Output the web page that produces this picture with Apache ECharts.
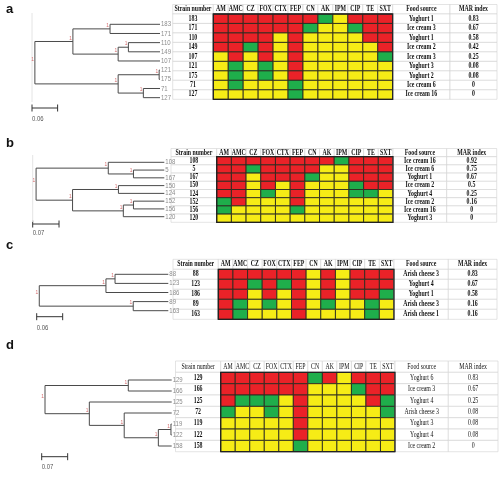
<!DOCTYPE html>
<html><head><meta charset="utf-8">
<script src="https://cdn.jsdelivr.net/npm/echarts@6/dist/echarts.min.js"></script>
<style>html,body{margin:0;padding:0;background:#fff}#c{width:500px;height:478px}</style>
</head><body><div id="c"></div>
<script>
// ---------------- DATA ----------------
const antibiotics = ['AM','AMC','CZ','FOX','CTX','FEP','CN','AK','IPM','CIP','TE','SXT'];
const colStrain = 'Strain number';
const colFood = 'Food source';
const colMar = 'MAR index';
const panelLetters = ['a','b','c','d'];

// R = red, G = green, Y = yellow (one letter per antibiotic)
const strainsA = ['183','171','110','149','107','121','175','71','127'];
const resistA = ['RRRRRRRGYRRR','RRRRRRGYYGRR','RRRRYRYYYYRR','RRGRYRYYYYYR','YRYRYRYYYYYG','YGYGYRYYYYYY','YGYGYRYYYYYY','YGYYYGYYYYYY','YYYYYGYYYYYY'];
const foodA = ['Yoghurt 1','Ice cream 3','Yoghurt 1','Ice cream 2','Ice cream 3','Yoghurt 3','Yoghurt 2','Ice cream 6','Ice cream 16'];
const marA = [0.83,0.67,0.58,0.42,0.25,0.08,0.08,0,0];
const treeA = [0.293,[0.204,[0.117,'183','171'],[0.098,[0.074,'110','149'],'107']],[0.098,[0.002,'121','175'],[0.039,'71','127']]];
const scaleA = 0.06;

const strainsB = ['108','5','167','150','124','152','156','120'];
const resistB = ['RRRRRRRRGRRR','RRGRRRRYYRRR','RRYRRRGYYRRR','RRYRYRYYYGRR','RRYGYRYYYGGY','GRYYYRYYYYYY','GYYYYGYYYYYY','YYYYYYYYYYYY'];
const foodB = ['Ice cream 16','Ice cream 6','Yoghurt 1','Ice cream 2','Yoghurt 4','Ice cream 2','Ice cream 16','Yoghurt 3'];
const marB = [0.92,0.75,0.67,0.5,0.25,0.16,0,0];
const treeB = [0.341,[0.149,'108',[0.082,'5','167']],[0.244,[0.122,'150','124'],[0.109,[0.082,'152','156'],'120']]];
const scaleB = 0.07;

const strainsC = ['88','123','186','89','163'];
const resistC = ['RRRRRRYRYRRR','RRGRGRYRYRRR','RRYRYRYRYRRG','RGYGYRYGYYGY','RGYYYRYYYYGY'];
const foodC = ['Arish cheese 3','Yoghurt 4','Yoghurt 1','Arish cheese 3','Arish cheese 1'];
const marC = [0.83,0.67,0.58,0.16,0.16];
const treeC = [0.298,[0.144,[0.123,'88','123'],'186'],[0.081,'89','163']];
const scaleC = 0.06;

const strainsD = ['129','166','125','72','119','122','158'];
const resistD = ['RRRRRRGRYRRR','RRRRRRYYYGRR','RGGGYRYYYYRG','GYYGYRYYYYYG','YYYYYRYYYYYY','YYYYYRYYYYYY','YYYYYGYYYYYY'];
const foodD = ['Yoghurt 6','Ice cream 3','Yoghurt 4','Arish cheese 3','Yoghurt 3','Yoghurt 4','Ice cream 2'];
const marD = [0.83,0.67,0.25,0.08,0.08,0.08,0];
const treeD = [0.3415,[0.117,'129','166'],[0.222,'125',[0.128,'72',[0.036,[0.002,'119','122'],'158']]]];
const scaleD = 0.07;

// ---------------- LAYOUT ----------------
const layouts = [
  {labelY:11, tipX:160, ppu:427, barLeft:32, leafY0:24.3, sp:9.17, barY:108, barTextY:119, frame:[13,102], tableTop:4.5, rowH:9.48, cols:[172.7,213.3,392.7,450,497], bold:true},
  {labelY:145, tipX:164.3, ppu:376, barLeft:32.7, leafY0:162.3, sp:7.77, barY:224, barTextY:233, frame:[155,222], tableTop:148.5, rowH:8.2, cols:[171,216.7,393,446.7,496.7], bold:true},
  {labelY:247, tipX:168.3, ppu:433, barLeft:36.7, leafY0:274.3, sp:9.1, barY:316.7, barTextY:328, frame:null, tableTop:259.3, rowH:10, cols:[173,218.3,394,448.3,497], bold:true},
  {labelY:347, tipX:171.7, ppu:371, barLeft:41.7, leafY0:380, sp:11, barY:456.7, barTextY:467, frame:null, tableTop:361, rowH:11.34, cols:[175.5,220.7,395,448.3,498], bold:false}
];
const panels = [
  {strains:strainsA, resist:resistA, food:foodA, mar:marA, tree:treeA, scale:scaleA},
  {strains:strainsB, resist:resistB, food:foodB, mar:marB, tree:treeB, scale:scaleB},
  {strains:strainsC, resist:resistC, food:foodC, mar:marC, tree:treeC, scale:scaleC},
  {strains:strainsD, resist:resistD, food:foodD, mar:marD, tree:treeD, scale:scaleD}
];

const COLORS = {R:'#ea2228', G:'#1fae4b', Y:'#f6ec16'};
const SERIF = '"Liberation Serif","Times New Roman",serif';
const SANS = '"Liberation Sans",Arial,sans-serif';

function txt(x, y, text, font, fill, sx, align){
  return {type:'text', x:x, y:y, scaleX:sx, z2:5,
    style:{text:String(text), x:0, y:0, align:align||'center', verticalAlign:'middle', font:font, fill:fill||'#111'}};
}

function layoutTree(node, leaves, segs, boots){
  if (typeof node === 'string') return {h:0, y:leaves.indexOf(node)};
  const h = node[0];
  const kids = node.slice(1).map(k => layoutTree(k, leaves, segs, boots));
  const y1 = kids[0].y, y2 = kids[kids.length-1].y;
  segs.push({kind:'seg', a:[h,y1,h,y2]});
  kids.forEach(k => segs.push({kind:'seg', a:[h,k.y,k.h,k.y]}));
  const y = (y1+y2)/2;
  boots.push({kind:'boot', h:h, y:y});
  return {h:h, y:y};
}

const grids = [], xAxes = [], yAxes = [], series = [], graphics = [];

function addGrid(g, xa, ya){
  grids.push(g); xa.gridIndex = grids.length-1; ya.gridIndex = grids.length-1;
  xAxes.push(xa); yAxes.push(ya);
  return grids.length-1;
}

panels.forEach((P, pi) => {
  const L = layouts[pi];
  const n = P.strains.length;
  // ---- tree ----
  const axMax = (L.tipX - L.barLeft) / L.ppu;
  const tg = addGrid({left:L.barLeft, top:L.leafY0 - L.sp/2, width:L.tipX - L.barLeft, height:n*L.sp},
    {type:'value', inverse:true, min:0, max:axMax, show:false},
    {type:'value', inverse:true, min:-0.5, max:n-0.5, show:false});
  const segs = [], boots = [];
  layoutTree(P.tree, P.strains, segs, boots);
  const tItems = segs.concat(boots);
  P.strains.forEach((s,i) => tItems.push({kind:'leaf', i:i, t:s}));
  tItems.push({kind:'bar', x0:axMax});
  series.push({
    type:'custom', xAxisIndex:tg, yAxisIndex:tg, silent:true, clip:false,
    data: tItems.map(() => [0,0]),
    renderItem: function(params, api){
      const it = tItems[params.dataIndex];
      if (it.kind === 'seg'){
        const p1 = api.coord([it.a[0], it.a[1]]), p2 = api.coord([it.a[2], it.a[3]]);
        return {type:'line', shape:{x1:p1[0], y1:p1[1], x2:p2[0], y2:p2[1]}, style:{stroke:'#4a4a4a', lineWidth:1}};
      }
      if (it.kind === 'leaf'){
        const p = api.coord([0, it.i]);
        return txt(p[0]+1, p[1], it.t, '7.5px ' + SANS, '#8c8c8c', 0.8, 'left');
      }
      if (it.kind === 'boot'){
        const p = api.coord([it.h, it.y]);
        return txt(p[0]-1, p[1]-3.5, '1', '6px ' + SANS, '#d46a6c', 0.8, 'right');
      }
      if (it.kind === 'bar'){
        const p1 = api.coord([it.x0, 0]), p2 = api.coord([it.x0 - P.scale, 0]);
        const y = L.barY;
        const ch = [
          {type:'line', shape:{x1:p1[0], y1:y, x2:p2[0], y2:y}, style:{stroke:'#333', lineWidth:1}},
          {type:'line', shape:{x1:p1[0], y1:y-3.5, x2:p1[0], y2:y+3.5}, style:{stroke:'#333', lineWidth:1}},
          {type:'line', shape:{x1:p2[0], y1:y-3.5, x2:p2[0], y2:y+3.5}, style:{stroke:'#333', lineWidth:1}},
          txt(p1[0], L.barTextY, P.scale, '7px ' + SANS, '#555', 0.85, 'left')
        ];
        if (L.frame) ch.push({type:'line', shape:{x1:p1[0], y1:L.frame[0], x2:p1[0], y2:L.frame[1]}, style:{stroke:'#e4e4e4', lineWidth:1}});
        return {type:'group', children:ch};
      }
    }
  });

  // ---- table ----
  const rows = ['header'].concat(P.strains);
  const top = L.tableTop, H = rows.length * L.rowH;
  const fw = L.bold ? 'bold ' : '';
  const fontHdr = fw + '7.5px ' + SERIF;
  const fontTxt = fw + '7.5px ' + SERIF;
  const fontNum = 'bold 7.5px ' + SERIF;
  const cols = L.cols;

  function addTable(left, right, colNames, items){
    const g = addGrid({left:left, top:top, width:right-left, height:H},
      {type:'category', data:colNames, show:false},
      {type:'category', data:rows, inverse:true, show:false});
    series.push({
      type:'custom', xAxisIndex:g, yAxisIndex:g, silent:true, clip:false,
      data: items.map(it => [it.c, it.r]),
      renderItem: function(params, api){
        const it = items[params.dataIndex];
        const c = api.coord([it.c, it.r]);
        const s = api.size([1,1]);
        const x0 = c[0]-s[0]/2, y0 = c[1]-s[1]/2;
        if (it.kind === 'outline'){
          const c2 = api.coord([it.c2, it.r2]);
          return {type:'rect', z2:10, shape:{x:x0, y:y0, width:c2[0]+s[0]/2-x0, height:c2[1]+s[1]/2-y0},
            style:{fill:'none', stroke:'#222', lineWidth:1.3}};
        }
        if (it.kind === 'cell'){
          return {type:'rect', shape:{x:x0, y:y0, width:s[0], height:s[1]},
            style:{fill:COLORS[it.v], stroke:'#2b2b20', lineWidth:0.9}};
        }
        return {type:'group', children:[
          {type:'rect', shape:{x:x0, y:y0, width:s[0], height:s[1]}, style:{fill:'#fff', stroke:'#d2d2d2', lineWidth:0.6}},
          txt(c[0], c[1], it.t, it.f, '#111', 0.78, 'center')
        ]};
      }
    });
  }

  // strain column
  const sItems = [{c:0, r:0, kind:'text', t:colStrain, f:fontHdr}];
  P.strains.forEach((s,i) => sItems.push({c:0, r:i+1, kind:'text', t:s, f:fontNum}));
  addTable(cols[0], cols[1], [colStrain], sItems);

  // heatmap
  const hItems = [];
  antibiotics.forEach((a,j) => hItems.push({c:j, r:0, kind:'text', t:a, f:fontHdr}));
  P.resist.forEach((row,i) => row.split('').forEach((v,j) => hItems.push({c:j, r:i+1, kind:'cell', v:v})));
  hItems.push({c:0, r:1, c2:antibiotics.length-1, r2:n, kind:'outline'});
  addTable(cols[1], cols[2], antibiotics, hItems);

  // food source
  const fItems = [{c:0, r:0, kind:'text', t:colFood, f:fontHdr}];
  P.food.forEach((s,i) => fItems.push({c:0, r:i+1, kind:'text', t:s, f:fontTxt}));
  addTable(cols[2], cols[3], [colFood], fItems);

  // MAR index
  const mItems = [{c:0, r:0, kind:'text', t:colMar, f:fontHdr}];
  P.mar.forEach((v,i) => mItems.push({c:0, r:i+1, kind:'text', t:v, f:fontTxt}));
  addTable(cols[3], cols[4], [colMar], mItems);

  graphics.push({type:'text', left:6, top:L.labelY-8, style:{text:panelLetters[pi], font:'bold 13px ' + SANS, fill:'#111'}});
});

const chart = echarts.init(document.getElementById('c'), null, {renderer:'canvas'});
chart.setOption({
  animation:false,
  backgroundColor:'#fff',
  grid:grids, xAxis:xAxes, yAxis:yAxes, series:series, graphic:graphics
});
</script>
</body></html>
